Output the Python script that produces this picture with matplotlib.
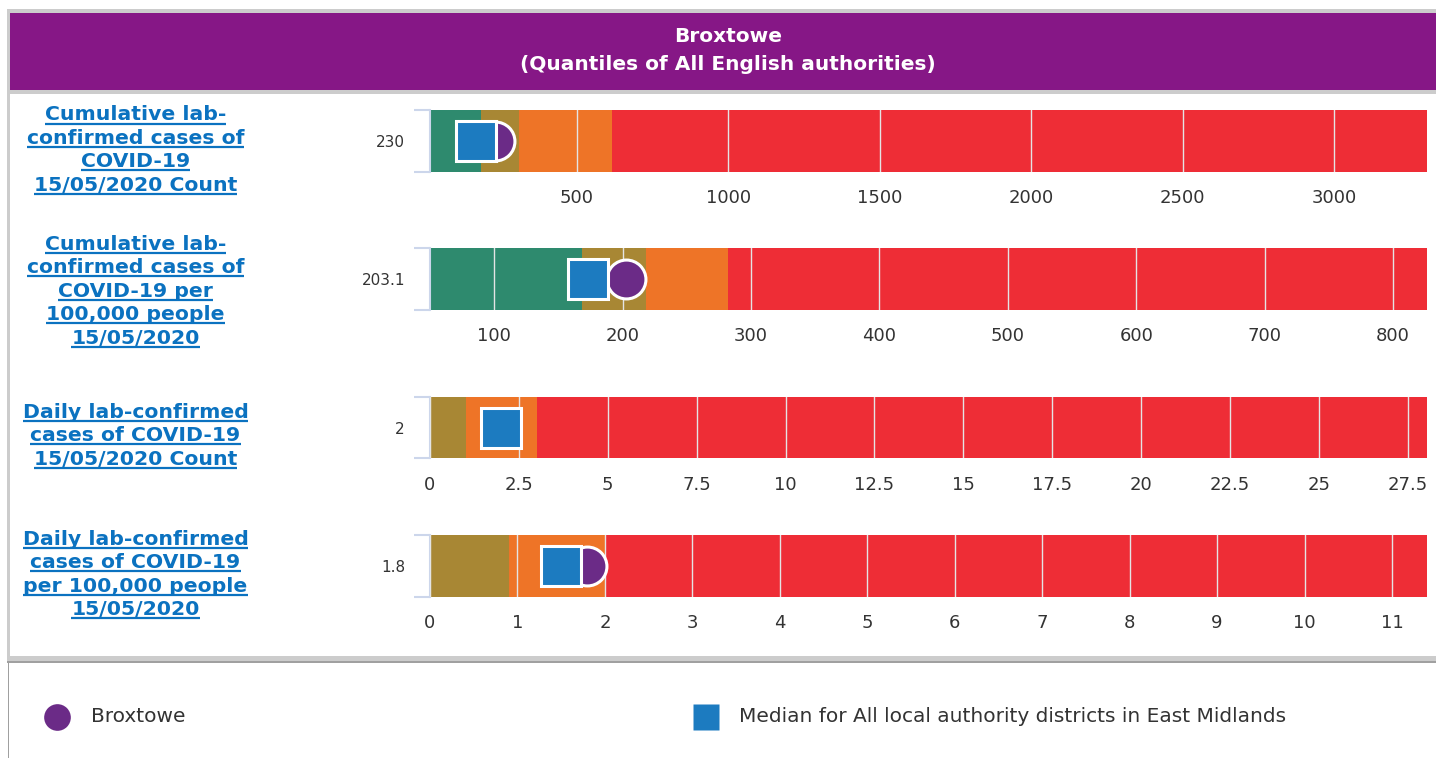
import matplotlib
matplotlib.use("Agg")
import matplotlib.pyplot as plt
from matplotlib.patches import Rectangle

plt.rcParams['font.family'] = ['DejaVu Sans']

# 数据
area_name = "Broxtowe"
comparator_name = "Median for All local authority districts in East Midlands"
title_lines = ["Broxtowe", "(Quantiles of All English authorities)"]

indicator_labels = [
    ["Cumulative lab-", "confirmed cases of", "COVID-19", "15/05/2020 Count"],
    ["Cumulative lab-", "confirmed cases of", "COVID-19 per", "100,000 people", "15/05/2020"],
    ["Daily lab-confirmed", "cases of COVID-19", "15/05/2020 Count"],
    ["Daily lab-confirmed", "cases of COVID-19", "per 100,000 people", "15/05/2020"],
]
area_values = [230, 203.1, 2, 1.8]
region_medians = [168, 173, 2.0, 1.5]

# quantile band edges: min, q1, q2, q3, max
band_edges = [
    [14.5, 183, 309, 614, 3307],
    [50.1, 168.3, 218.4, 282.4, 826.4],
    [0, 0, 1, 3, 28.04],
    [0, 0, 0.9, 2.0, 11.4],
]
axis_ticks = [
    [500, 1000, 1500, 2000, 2500, 3000],
    [100, 200, 300, 400, 500, 600, 700, 800],
    [0, 2.5, 5, 7.5, 10, 12.5, 15, 17.5, 20, 22.5, 25, 27.5],
    [0, 1, 2, 3, 4, 5, 6, 7, 8, 9, 10, 11],
]

band_colors = ['#2e8a6e', '#a88734', '#ee7427', '#ee2d36']
purple = '#6b2b87'
blue = '#1c7bc0'
link_blue = '#0b72c0'
text_grey = '#333333'

# 布局 (像素)
W, H = 1436, 758
bar_tops = [110, 248, 397, 535]
bar_h = 61.5
ax_x0, ax_x1 = 430, 1427
label_first_baseline = [120.5, 250, 418, 545]
line_step = 23.4

fig = plt.figure(figsize=(W / 100, H / 100), dpi=100)
fig.patch.set_facecolor('white')

bg = fig.add_axes([0, 0, 1, 1])
bg.set_xlim(0, W)
bg.set_ylim(H, 0)
bg.axis('off')

# 边框和标题栏
bg.add_patch(Rectangle((7, 9), W - 7, 4, color='#cccccc', lw=0))
bg.add_patch(Rectangle((10, 13), W - 10, 77, color='#861786', lw=0))
bg.add_patch(Rectangle((10, 90), W - 10, 4, color='#cccccc', lw=0))
bg.add_patch(Rectangle((7, 9), 3, 652, color='#cccccc', lw=0))
bg.add_patch(Rectangle((7, 656), W - 7, 5, color='#cccccc', lw=0))
bg.add_patch(Rectangle((7, 661), W - 7, 2, color='#a0a0a0', lw=0))
bg.add_patch(Rectangle((7.5, 661), 1.5, H - 661, color='#a0a0a0', lw=0))

bg.text(728, 36, title_lines[0], ha='center', va='center', fontsize=14.5,
        fontweight='bold', color='white')
bg.text(728, 65, title_lines[1], ha='center', va='center', fontsize=14.5,
        fontweight='bold', color='white')

# 左侧指标名称 (带下划线)
label_texts = []
for i, lines in enumerate(indicator_labels):
    for k, s in enumerate(lines):
        yb = label_first_baseline[i] + k * line_step
        t = bg.text(135.5, yb, s, ha='center', va='baseline', fontsize=14.7,
                    fontweight='bold', color=link_blue)
        label_texts.append((t, yb))

fig.canvas.draw()
renderer = fig.canvas.get_renderer()
for t, yb in label_texts:
    bb = t.get_window_extent(renderer)
    bg.plot([bb.x0, bb.x1], [yb + 3, yb + 3], color=link_blue, lw=1.6,
            solid_capstyle='butt')

# 各指标的分位数条
for i in range(4):
    top = bar_tops[i]
    ax = fig.add_axes([ax_x0 / W, 1 - (top + bar_h) / H, (ax_x1 - ax_x0) / W, bar_h / H])
    edges = band_edges[i]
    for j in range(4):
        ax.barh(0.5, edges[j + 1] - edges[j], left=edges[j], height=1,
                color=band_colors[j], linewidth=0)
    ax.set_xlim(edges[0], edges[-1])
    ax.set_ylim(0, 1)
    ax.set_xticks(axis_ticks[i], labels=[f"{v:g}" for v in axis_ticks[i]])
    ax.tick_params(axis='x', length=0, pad=12.3, labelsize=13, labelcolor=text_grey)
    ax.grid(axis='x', color='#e4e4e4', lw=1.0)
    ax.set_axisbelow(False)

    ax.plot(area_values[i], 0.5, 'o', ms=28, mfc=purple, mec='white', mew=2.2,
            zorder=4, clip_on=False)
    ax.plot(region_medians[i], 0.5, 's', ms=29, mfc=blue, mec='white', mew=2.2,
            zorder=5, clip_on=False)

    for side in ['top', 'right', 'bottom']:
        ax.spines[side].set_visible(False)
    ax.spines['left'].set_color('#ccd6eb')
    ax.spines['left'].set_linewidth(1.5)
    ax.set_yticks([0, 1], labels=['', ''])
    ax.tick_params(axis='y', which='major', length=11.5, width=1.5, color='#ccd6eb')
    ax.set_yticks([0.5], labels=[f"{area_values[i]:g}"], minor=True)
    ax.tick_params(axis='y', which='minor', length=0, pad=18, labelsize=11,
                   labelcolor=text_grey)

# 图例
bg.plot(56.7, 717, 'o', ms=19.2, color=purple, mec='none')
bg.text(91, 717, area_name, ha='left', va='center', fontsize=14.5, color=text_grey)
bg.plot(706, 717, 's', ms=18.7, color=blue, mec='none')
bg.text(739, 717, comparator_name, ha='left', va='center', fontsize=14.5, color=text_grey)

fig.savefig('out.png', dpi=100)
